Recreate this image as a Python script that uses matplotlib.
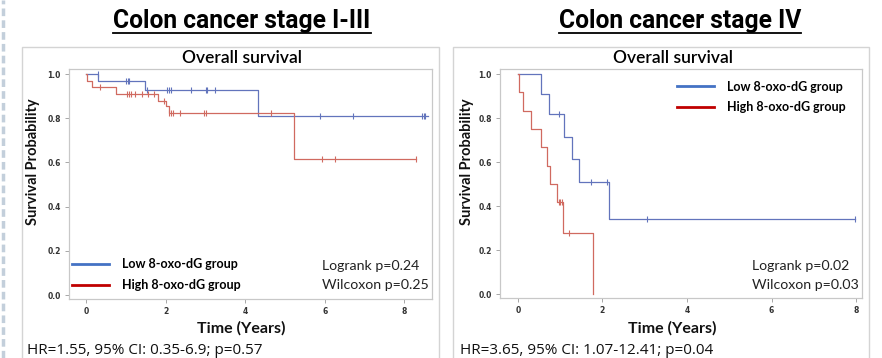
import numpy as np
import matplotlib
matplotlib.use("Agg")
import matplotlib.pyplot as plt
from matplotlib.lines import Line2D
from matplotlib.patches import Rectangle

W, H = 882, 358

# stage I-III, low 8-oxo-dG: step times / survival, censor times
l_low_t = [0, 0.30, 1.48, 4.32, 8.60]
l_low_s = [1.0, 0.969, 0.930, 0.812, 0.812]
l_low_c = [0.28, 1.0, 1.04, 1.08, 1.52, 2.04, 2.09, 2.13, 2.64, 3.0, 3.04, 3.24,
           5.89, 6.71, 8.45, 8.49, 8.53]
# stage I-III, high 8-oxo-dG
l_high_t = [0, 0.02, 0.14, 0.74, 1.79, 2.01, 2.07, 5.23, 8.30]
l_high_s = [1.0, 0.970, 0.940, 0.910, 0.876, 0.855, 0.826, 0.617, 0.617]
l_high_c = [0.33, 1.02, 1.06, 1.12, 1.23, 1.39, 1.56, 1.69, 1.94, 2.09, 2.13, 2.18,
            2.36, 2.96, 3.01, 4.64, 5.93, 6.26, 8.30]
# stage IV, low
r_low_t = [0, 0.56, 0.74, 1.10, 1.29, 1.45, 2.16, 7.98]
r_low_s = [1.0, 0.909, 0.818, 0.716, 0.614, 0.511, 0.341, 0.341]
r_low_c = [0.98, 1.74, 2.11, 3.05, 7.98]
# stage IV, high
r_high_t = [0, 0.02, 0.13, 0.31, 0.54, 0.68, 0.76, 0.92, 1.07, 1.79]
r_high_s = [1.0, 0.917, 0.833, 0.75, 0.667, 0.583, 0.5, 0.417, 0.278, 0.0]
r_high_c = [0.98, 1.01, 1.04, 1.21]

titles = ["Colon cancer stage I-III", "Colon cancer stage IV"]
stats = [["Logrank p=0.24", "Wilcoxon p=0.25"], ["Logrank p=0.02", "Wilcoxon p=0.03"]]
hr_text = ["HR=1.55, 95% CI: 0.35-6.9; p=0.57", "HR=3.65, 95% CI: 1.07-12.41; p=0.04"]
groups = ["Low 8-oxo-dG group", "High 8-oxo-dG group"]
yticks = [0.0, 0.2, 0.4, 0.6, 0.8, 1.0]
xticks = [0, 2, 4, 6, 8]

curve_col = ["#6274bc", "#d06a60"]
legend_col = ["#4472c4", "#c00000"]
calib = ["Lato", "DejaVu Sans"]


def fx(x):
    return x / W


def fy(y):
    return 1 - y / H


def censor_y(t, s, c):
    idx = np.searchsorted(t, c, side="right") - 1
    return np.array(s)[idx]


fig = plt.figure(figsize=(W / 100, H / 100), dpi=100)
fig.patch.set_facecolor("white")

# dashed margin line on the left
fig.add_artist(Line2D([fx(3), fx(3)], [0, 1], color="#c3cfdb", lw=2.5,
                      dashes=(2.2, 1.2)))

panels = [
    dict(frame=(22, 439), ax=(69, 432, 69, 299), xlim=(-0.44, 8.7), tcx=242, ocx=242, tmx=241,
         spx=33, stx=322, hrx=27, lines=[(l_low_t, l_low_s, l_low_c), (l_high_t, l_high_s, l_high_c)],
         leg=dict(loc="lower left", bbox=(-0.022, -0.015))),
    dict(frame=(453, 869), ax=(500, 862, 69, 298), xlim=(-0.42, 8.14), tcx=680, ocx=673, tmx=672,
         spx=467, stx=752, hrx=460, lines=[(r_low_t, r_low_s, r_low_c), (r_high_t, r_high_s, r_high_c)],
         leg=dict(loc="upper left", bbox=(0.459, 0.998))),
]

for i, p in enumerate(panels):
    # outer frame
    f0, f1 = p["frame"]
    fig.add_artist(Rectangle((fx(f0), fy(362)), fx(f1 - f0), (362 - 47) / H,
                             fill=False, ec="#d4d4d4", lw=1.0))
    # main underlined title
    t = fig.text(fx(p["tcx"]), fy(21), titles[i], ha="center", va="center",
                 fontsize=17.7, fontweight="bold", family="Roboto", color="black")
    fig.canvas.draw()
    bb = t.get_window_extent()
    fig.add_artist(Line2D([bb.x0 / W, bb.x1 / W], [fy(32.5), fy(32.5)],
                          color="black", lw=1.3))

    x0, x1, y0, y1 = p["ax"]
    ax = fig.add_axes([fx(x0), fy(y1), fx(x1 - x0), (y1 - y0) / H])
    for j, (tt, ss, cc) in enumerate(p["lines"]):
        ax.step(tt, ss, where="post", color=curve_col[j], lw=0.9)
        ax.plot(cc, censor_y(tt, ss, cc), ls="none", marker="|", ms=4,
                mew=0.8, color=curve_col[j])
    ax.set_xlim(*p["xlim"])
    ax.set_ylim(-0.018, 1.023)
    ax.set_xticks(xticks)
    ax.set_yticks(yticks)
    ax.set_yticklabels([f"{v:.1f}" for v in yticks])
    ax.tick_params(length=3, width=0.6, color="#999999", labelsize=5.5,
                   labelcolor="#333333", pad=3)
    for lab in ax.get_xticklabels() + ax.get_yticklabels():
        lab.set_fontweight("bold")
    for sp in ax.spines.values():
        sp.set_color("#c8c8c8")
        sp.set_linewidth(0.9)

    handles = [Line2D([], [], color=legend_col[k], lw=2) for k in range(2)]
    ax.legend(handles, groups, loc=p["leg"]["loc"], bbox_to_anchor=p["leg"]["bbox"],
              frameon=False, handlelength=2.9, handletextpad=1.05, labelspacing=0.7,
              prop=dict(family=calib, weight="bold", size=9))

    fig.text(fx(p["ocx"]), fy(58), "Overall survival", ha="center", va="center",
             fontsize=12.5, family=calib, fontweight="semibold", color="black")
    fig.text(fx(p["tmx"]), fy(328), "Time (Years)", ha="center", va="center",
             fontsize=11.5, family=calib, fontweight="bold", color="#111111")
    fig.text(fx(p["spx"]), fy(162), "Survival Probability", ha="center", va="center",
             rotation=90, fontsize=10.5, family=calib, fontweight="bold", color="#111111")
    fig.text(fx(p["stx"]), fy(266), stats[i][0], ha="left", va="center",
             fontsize=10.2, family=calib, color="#222222")
    fig.text(fx(p["stx"]), fy(285), stats[i][1], ha="left", va="center",
             fontsize=10.2, family=calib, color="#222222")
    fig.text(fx(p["hrx"]), fy(351), hr_text[i], ha="left", va="center",
             fontsize=11, family=["Open Sans", "DejaVu Sans"], color="#111111")

fig.savefig("out.png", dpi=100, facecolor="white")
